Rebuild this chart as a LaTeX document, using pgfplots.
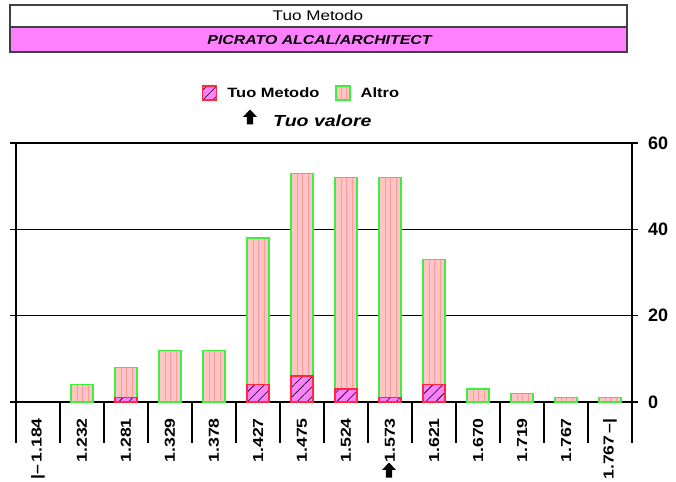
\documentclass[border=0pt]{standalone}
\usepackage{fontspec}
\setmainfont{Liberation Sans}[FakeStretch=1.22]
\newfontfamily\plainfont{Liberation Sans}
\usepackage{pgfplots}
\pgfplotsset{compat=1.18}
\usetikzlibrary{patterns.meta}

\definecolor{tuofill}{RGB}{255,128,255}
\definecolor{tuoedge}{RGB}{255,40,60}
\definecolor{altrofill}{RGB}{255,196,196}
\definecolor{altrostripe}{RGB}{255,155,160}
\definecolor{altroedge}{RGB}{60,240,60}
\definecolor{boxedge}{RGB}{64,64,64}

\tikzset{
  tuo/.style={preaction={fill=tuofill}, pattern={Lines[angle=45,distance=7pt,line width=0.6pt]},
    pattern color=black, draw=tuoedge, line width=1.3pt},
  altro/.style={preaction={fill=altrofill}, pattern={Lines[angle=90,distance=5.5pt,line width=1pt]},
    pattern color=altrostripe, draw=altroedge, line width=1.3pt},
  uparr/.pic={\fill[black] (-7pt,0) -- (0,7.5pt) -- (7pt,0) -- (3.2pt,0) -- (3.2pt,-7.5pt) -- (-3.2pt,-7.5pt) -- (-3.2pt,0) -- cycle;}
}

\begin{document}
\begin{tikzpicture}[x=1pt,y=1pt]
\useasboundingbox (0,0) rectangle (676,481);

% title boxes
\draw[boxedge, line width=1.2pt, fill=white] (10,454) rectangle (627,476);
\node at (318,465) {\fontsize{14}{16}\selectfont Tuo Metodo};
\draw[boxedge, line width=1.2pt, fill=tuofill] (10,429) rectangle (627,454);
\node at (319.5,441.5) {\fontsize{13}{15}\selectfont\bfseries\itshape PICRATO ALCAL/ARCHITECT};

\begin{axis}[
  at={(16pt,79pt)}, anchor=south west,
  scale only axis, width=616pt, height=259pt,
  xmin=-0.5, xmax=13.5, ymin=0, ymax=60,
  ybar stacked, bar width=22pt,
  clip=false,
  axis line style={line width=1.4pt, black},
  tick align=outside,
  xtick pos=bottom, ytick pos=both, yticklabel pos=right,
  xtick={0,...,13},
  xticklabels={{|--\,1.184},1.232,1.281,1.329,1.378,1.427,1.475,1.524,1.573,1.621,1.670,1.719,1.767,{1.767\,--|}},
  minor xtick={-0.5,0.5,...,13.5},
  major x tick style={draw=none},
  minor tick length=41pt,
  major tick length=6pt,
  every tick/.style={black, line width=1.4pt},
  xticklabel style={rotate=90, anchor=east, inner sep=0pt, font=\bfseries\fontsize{14.5}{16}\selectfont},
  xticklabel shift=10pt,
  ytick={0,20,40,60},
  /pgf/number format/assume math mode=true,
  yticklabel style={anchor=west, inner sep=0pt, font=\plainfont\bfseries\fontsize{18}{20}\selectfont},
  yticklabel shift=10pt,
  ymajorgrids,
  grid style={black, line width=1.4pt},
  legend columns=2,
  legend style={at={(0.462,1.193)}, anchor=center, draw=none, fill=none,
    font=\bfseries\fontsize{13.5}{15}\selectfont,
    nodes={inner sep=0pt},
    /tikz/every odd column/.append style={column sep=10pt},
    /tikz/every even column/.append style={column sep=16pt}},
]
\addplot[tuo, legend image code/.code={\draw[tuo] (0pt,-7pt) rectangle (14pt,7pt);}] coordinates {
  (1,0) (2,1) (3,0) (4,0) (5,4) (6,6) (7,3) (8,1) (9,4) (10,0) (11,0) (12,0) (13,0)
};
\addlegendentry{Tuo Metodo}
\addplot[altro, legend image code/.code={\draw[altro] (0pt,-7pt) rectangle (14pt,7pt);}] coordinates {
  (1,4) (2,7) (3,12) (4,12) (5,34) (6,47) (7,49) (8,51) (9,29) (10,3) (11,2) (12,1) (13,1)
};
\addlegendentry{Altro}
\end{axis}

\path (250,364) pic{uparr};
\node[anchor=west, inner sep=0pt, font=\bfseries\itshape\fontsize{16}{18}\selectfont] at (273,360) {Tuo valore};
\path (389,11) pic{uparr};
\end{tikzpicture}
\end{document}
